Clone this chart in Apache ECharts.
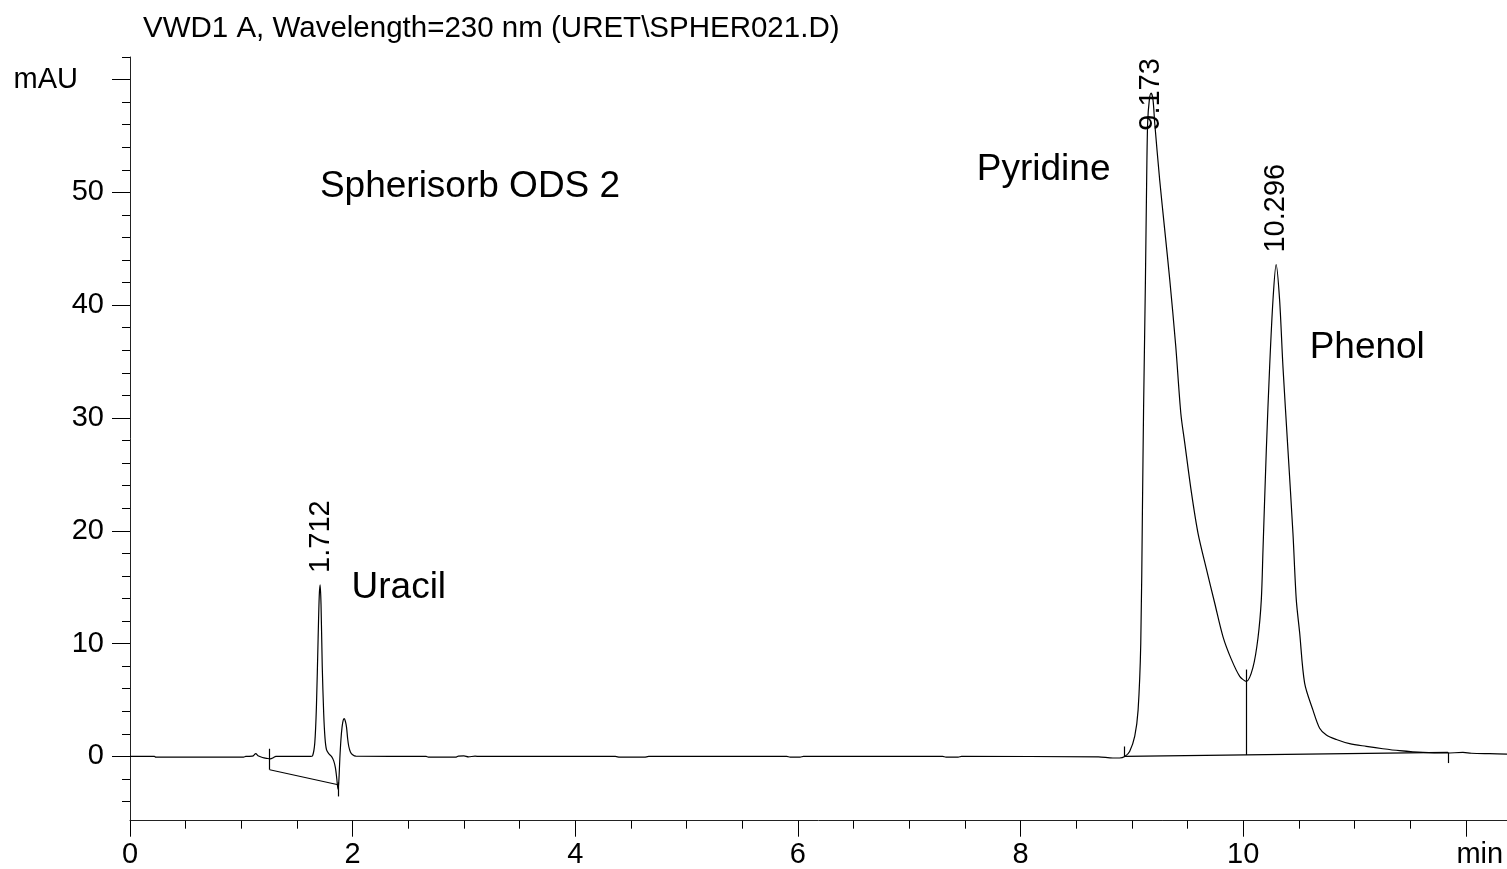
<!DOCTYPE html>
<html><head><meta charset="utf-8">
<script src="https://cdn.jsdelivr.net/npm/echarts@6/dist/echarts.min.js"></script>
<style>html,body{margin:0;padding:0;background:#fff}#c{width:1507px;height:869px}</style>
</head><body><div id="c"></div>
<script>
// ---------------- data ----------------
const titleText = 'VWD1 A, Wavelength=230 nm (URET\\SPHER021.D)';
// retention time (min)
const timeMin = [
  0, 0.22, 0.23, 1.02, 1.04, 1.10, 1.13, 1.15, 1.19, 1.23, 1.26, 1.29, 1.31, 1.62,
  1.640, 1.660, 1.675, 1.690, 1.700, 1.708, 1.716, 1.727, 1.740, 1.752, 1.765, 1.785, 1.810, 1.830, 1.845,
  1.858, 1.868, 1.876, 1.885, 1.895, 1.905, 1.915, 1.925, 1.935, 1.945, 1.955, 1.965, 1.980, 2.000, 2.030,
  2.66, 2.68, 2.93, 2.95, 3.00, 3.04, 3.10, 3.14, 4.36, 4.40, 4.62, 4.66, 5.90, 5.93, 6.02, 6.05,
  7.30, 7.33, 7.44, 7.47, 8.70, 8.83, 8.89,
  8.936, 8.98, 9.026, 9.056, 9.080, 9.095, 9.105, 9.122, 9.133, 9.142, 9.157, 9.173, 9.190, 9.205, 9.250,
  9.295, 9.340, 9.394, 9.440, 9.475, 9.535, 9.594, 9.670, 9.744, 9.819, 9.894, 9.969, 10.029, 10.088, 10.133,
  10.163, 10.178, 10.208, 10.238, 10.268, 10.296, 10.327, 10.357, 10.402, 10.447, 10.477, 10.507, 10.552, 10.627, 10.687,
  10.747, 10.837, 10.956, 11.106, 11.255, 11.405, 11.615, 11.825, 11.974, 12.05, 12.214, 12.37
];
// detector signal (mAU)
const signalMAU = [
  0, 0, -0.06, -0.06, 0, 0.02, 0.25, 0.05, -0.10, -0.18, -0.22, -0.10, 0, 0,
  0.05, 1.2, 4.5, 10.5, 14.2, 15.2, 13.5, 8.0, 3.8, 1.6, 0.6, 0.25, 0.0, -0.4, -1.0,
  -2.0, -2.9, -2.2, -0.2, 1.5, 2.6, 3.2, 3.35, 3.1, 2.6, 1.6, 0.9, 0.4, 0.15, 0.02,
  0, -0.06, -0.06, 0.03, 0.05, -0.04, 0.02, 0, 0, -0.07, -0.07, 0, 0, -0.06, -0.06, 0,
  0, -0.06, -0.06, 0, -0.05, -0.14, -0.14,
  0.0, 0.44, 1.8, 4.1, 10.0, 21.9, 30.6, 42.3, 51.1, 56.2, 58.2, 58.8, 58.2, 56.2, 51.1,
  46.7, 42.3, 36.4, 30.4, 27.8, 23.4, 19.8, 16.6, 13.6, 10.6, 8.6, 7.1, 6.65, 7.9, 10.5,
  13.9, 18.3, 27.2, 34.6, 40.5, 43.6, 40.5, 34.6, 27.2, 19.8, 13.9, 11.0, 6.5, 4.1, 2.5,
  1.9, 1.5, 1.13, 0.89, 0.68, 0.51, 0.35, 0.30, 0.35, 0.28, 0.24, 0.21
];
// peak retention times and where their labels start (mAU)
const peakTimes = [1.712, 9.173, 10.296];
const peakLabelY = [15.2, 54.4, 43.6];
// annotations
const compoundNames = ['Spherisorb ODS 2', 'Uracil', 'Pyridine', 'Phenol'];
const compoundX = [1.706, 1.99, 7.607, 10.597];
const compoundY = [50.5, 14.97, 52.0, 36.2];
// integration baselines and event marks [x1, y1, x2, y2]
const baselineSegs = [
  [1.255, 0.68, 1.255, -1.18],
  [1.255, -1.18, 1.87, -2.51],
  [1.87, -2.3, 1.87, -3.55],
  [8.936, 0.88, 8.936, 0.0],
  [8.936, 0.0, 11.84, 0.35],
  [10.029, 7.7, 10.029, 0.13],
  [11.84, 0.35, 11.84, -0.59]
];
// axes
const xRange = [0, 12.37];
const yRange = [-5.7, 62];
const xTickRange = [0, 12];   // labels every 2, last one shows unit
const yMajorRange = [0, 60];  // labels every 10, last one shows unit
const yMinorRange = [-4, 62]; // minor ticks every 2

// ---------------- layout ----------------
const FONT = 'Liberation Sans, Arial, sans-serif';
const L = 130, T = 57, W = 1377, H = 763.7;
const yPix = v => T + (yRange[1] - v) / (yRange[1] - yRange[0]) * H;
const xW = v => v / (xRange[1] - xRange[0]) * W;

const chart = echarts.init(document.getElementById('c'), null, {renderer: 'canvas'});

const hidden = g => ({gridIndex: g, type: 'value', show: false, min: 0, max: 1});
const noSplit = {show: false};

const option = {
  animation: false,
  backgroundColor: '#fff',
  grid: [
    {left: L, top: T, width: W, height: H, outerBoundsMode: 'none'},
    {left: L, top: T, width: xW(xTickRange[1]), height: H, outerBoundsMode: 'none'},
    {left: L, top: yPix(yMajorRange[1]), width: W, height: yPix(yMajorRange[0]) - yPix(yMajorRange[1]), outerBoundsMode: 'none'},
    {left: L, top: yPix(yMinorRange[1]), width: W, height: yPix(yMinorRange[0]) - yPix(yMinorRange[1]), outerBoundsMode: 'none'}
  ],
  xAxis: [
    {gridIndex: 0, type: 'value', min: xRange[0], max: xRange[1],
     axisLine: {show: true, onZero: false, lineStyle: {color: '#222', width: 1}},
     axisTick: {show: false}, axisLabel: {show: false}, splitLine: noSplit},
    {gridIndex: 1, type: 'value', min: xTickRange[0], max: xTickRange[1], interval: 2,
     axisLine: {show: false, onZero: false},
     axisTick: {show: true, length: 16, lineStyle: {color: '#000', width: 1}},
     minorTick: {show: true, splitNumber: 4, length: 8, lineStyle: {color: '#000', width: 1}},
     splitLine: noSplit, minorSplitLine: noSplit,
     axisLabel: {show: true, margin: 20, fontSize: 29, fontFamily: FONT, color: '#000',
       formatter: v => v === xTickRange[1] ? '{u|min}' : String(v),
       rich: {u: {fontSize: 29, fontFamily: FONT, color: '#000', padding: [0, 0, 0, 28]}}}},
    hidden(2), hidden(3)
  ],
  yAxis: [
    {gridIndex: 0, type: 'value', min: yRange[0], max: yRange[1],
     axisLine: {show: true, onZero: false, lineStyle: {color: '#222', width: 1}},
     axisTick: {show: false}, axisLabel: {show: false}, splitLine: noSplit},
    hidden(1),
    {gridIndex: 2, type: 'value', min: yMajorRange[0], max: yMajorRange[1], interval: 10,
     axisLine: {show: false, onZero: false},
     axisTick: {show: true, length: 18, lineStyle: {color: '#000', width: 1}},
     splitLine: noSplit,
     axisLabel: {show: true, margin: 26, fontSize: 29, fontFamily: FONT, color: '#000',
       formatter: v => v === yMajorRange[1] ? '{u|mAU}' : String(v),
       rich: {u: {fontSize: 29, fontFamily: FONT, color: '#000', padding: [0, 26, 0, 0]}}}},
    {gridIndex: 3, type: 'value', min: yMinorRange[0], max: yMinorRange[1], interval: 2,
     axisLine: {show: false, onZero: false},
     axisTick: {show: true, length: 8, lineStyle: {color: '#000', width: 1}},
     splitLine: noSplit, axisLabel: {show: false}}
  ],
  graphic: [
    {type: 'text', x: 143, y: 29, silent: true,
     style: {text: titleText, fontSize: 29.5, fontFamily: FONT, fill: '#000', align: 'left', verticalAlign: 'middle'}}
  ],
  series: [
    {
      type: 'line', xAxisIndex: 0, yAxisIndex: 0,
      data: timeMin.map((t, i) => [t, signalMAU[i]]),
      symbol: 'none', showSymbol: false, smooth: 0.3,
      lineStyle: {color: '#000', width: 1.2},
      emphasis: {disabled: true}, silent: true,
      markLine: {
        silent: true, symbol: ['none', 'none'], label: {show: false},
        lineStyle: {type: 'solid', color: '#000', width: 1.2},
        emphasis: {disabled: true},
        data: baselineSegs.map(s => [{coord: [s[0], s[1]]}, {coord: [s[2], s[3]]}])
      }
    },
    {
      type: 'scatter', xAxisIndex: 0, yAxisIndex: 0, symbolSize: 0, silent: true,
      itemStyle: {opacity: 1}, emphasis: {disabled: true},
      data: peakTimes.map((t, i) => [t, peakLabelY[i]]),
      label: {show: true, position: 'top', distance: 12, rotate: 90, align: 'left', verticalAlign: 'middle',
        fontSize: 29, fontFamily: FONT, color: '#000', opacity: 1,
        formatter: p => p.value[0].toFixed(3)}
    },
    {
      type: 'scatter', xAxisIndex: 0, yAxisIndex: 0, symbolSize: 0, silent: true,
      itemStyle: {opacity: 1}, emphasis: {disabled: true},
      data: compoundX.map((x, i) => [x, compoundY[i]]),
      label: {show: true, position: 'right', distance: 0, align: 'left', verticalAlign: 'middle',
        fontSize: 37, fontFamily: FONT, color: '#000', opacity: 1,
        formatter: p => compoundNames[p.dataIndex]}
    }
  ]
};
chart.setOption(option);
</script>
</body></html>
